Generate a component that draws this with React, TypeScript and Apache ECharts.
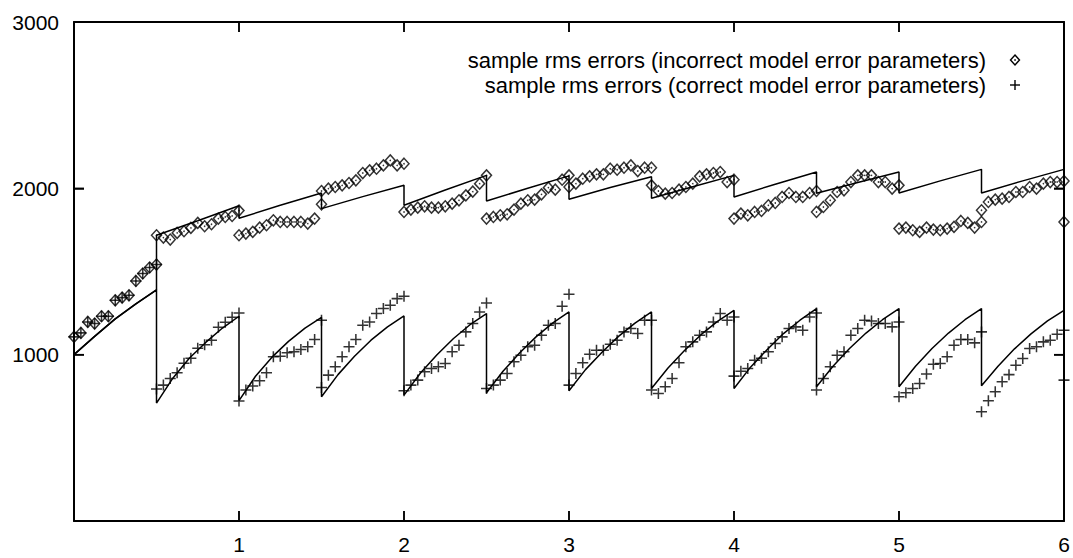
import React, { useEffect, useRef } from "react";
import * as echarts from "echarts";

// Sampling: each half-unit interval ("tooth") holds 13 samples
const toothStarts = [0, 0.5, 1, 1.5, 2, 2.5, 3, 3.5, 4, 4.5, 5, 5.5];
const sampleOffsets = [0, 0.0417, 0.0833, 0.125, 0.1667, 0.2083, 0.25, 0.2917, 0.3333, 0.375, 0.4167, 0.4583, 0.5];

// sample rms errors (incorrect model error parameters) — diamonds
const incorrectErrors: number[][] = [
  [1107, 1131, 1197, 1187, 1231, 1231, 1327, 1343, 1357, 1443, 1488, 1524, 1542],
  [1718, 1704, 1692, 1732, 1742, 1762, 1792, 1772, 1784, 1818, 1828, 1834, 1866],
  [1718, 1728, 1738, 1764, 1778, 1808, 1798, 1798, 1798, 1798, 1788, 1818, 1904],
  [1984, 1998, 2008, 2018, 2032, 2048, 2092, 2108, 2118, 2138, 2168, 2138, 2148],
  [1858, 1872, 1884, 1892, 1884, 1884, 1892, 1908, 1928, 1958, 1980, 2028, 2078],
  [1818, 1828, 1838, 1844, 1872, 1908, 1928, 1932, 1964, 2004, 1992, 2052, 2078],
  [2008, 2028, 2058, 2072, 2084, 2084, 2118, 2112, 2124, 2138, 2104, 2124, 2124],
  [2018, 1984, 1968, 1972, 1992, 2008, 2028, 2072, 2084, 2092, 2098, 2038, 2052],
  [1818, 1848, 1838, 1858, 1864, 1898, 1912, 1948, 1972, 1948, 1948, 1972, 1984],
  [1858, 1888, 1928, 1978, 1988, 2038, 2078, 2078, 2078, 2038, 2038, 1998, 2018],
  [1758, 1764, 1748, 1738, 1764, 1752, 1748, 1758, 1768, 1804, 1792, 1764, 1798],
  [1868, 1918, 1932, 1938, 1948, 1978, 1978, 2008, 1998, 2028, 2038, 2038, 2044],
];
const incorrectFinal = [6, 1798];

// sample rms errors (correct model error parameters) — pluses
const correctErrors: number[][] = [
  [1107, 1131, 1197, 1187, 1231, 1231, 1327, 1343, 1357, 1443, 1488, 1524, 1542],
  [793, 817, 857, 891, 949, 979, 1039, 1060, 1087, 1165, 1195, 1225, 1251],
  [722, 787, 811, 843, 891, 987, 991, 1011, 1017, 1031, 1047, 1091, 1207],
  [803, 877, 927, 987, 1047, 1091, 1177, 1197, 1247, 1277, 1297, 1337, 1351],
  [783, 817, 847, 897, 917, 927, 947, 1017, 1057, 1137, 1187, 1257, 1311],
  [797, 817, 847, 887, 957, 997, 1047, 1057, 1117, 1177, 1187, 1291, 1363],
  [817, 887, 951, 1003, 1027, 1027, 1063, 1087, 1137, 1157, 1127, 1207, 1207],
  [787, 767, 807, 857, 951, 1047, 1077, 1117, 1137, 1197, 1247, 1207, 1227],
  [871, 900, 917, 967, 979, 1017, 1067, 1107, 1157, 1167, 1147, 1227, 1251],
  [787, 857, 927, 997, 1017, 1117, 1157, 1207, 1203, 1187, 1187, 1167, 1197],
  [747, 771, 797, 827, 884, 943, 947, 987, 1057, 1091, 1091, 1071, 1137],
  [657, 723, 777, 837, 880, 937, 977, 1037, 1047, 1077, 1087, 1123, 1147],
];
const correctFinal = [6, 847];

// model prediction (incorrect parameters) — upper solid line
const incorrectModelX = [0, 0.125, 0.25, 0.375, 0.5, 0.5, 0.75, 1, 1, 1.25, 1.5, 1.5, 1.75, 2, 2, 2.25, 2.5, 2.5, 2.75, 3, 3, 3.25, 3.5, 3.5, 3.75, 4, 4, 4.25, 4.5, 4.5, 4.75, 5, 5, 5.25, 5.5, 5.5, 5.75, 6];
const incorrectModelY = [1000, 1110, 1215, 1305, 1390, 1718, 1805, 1895, 1820, 1898, 1972, 1878, 1950, 2018, 1898, 1990, 2078, 1924, 2000, 2075, 1934, 2005, 2070, 1940, 2010, 2078, 1948, 2025, 2098, 1970, 2035, 2098, 1972, 2045, 2114, 1972, 2045, 2114];

// model prediction (correct parameters) — lower solid line
const correctModelX = [0, 0.125, 0.25, 0.375, 0.5,
  0.5, 0.6, 0.7, 0.8, 0.9, 1.0,
  1.0, 1.1, 1.2, 1.3, 1.4, 1.5,
  1.5, 1.6, 1.7, 1.8, 1.9, 2.0,
  2.0, 2.1, 2.2, 2.3, 2.4, 2.5,
  2.5, 2.6, 2.7, 2.8, 2.9, 3.0,
  3.0, 3.1, 3.2, 3.3, 3.4, 3.5,
  3.5, 3.6, 3.7, 3.8, 3.9, 4.0,
  4.0, 4.1, 4.2, 4.3, 4.4, 4.5,
  4.5, 4.6, 4.7, 4.8, 4.9, 5.0,
  5.0, 5.1, 5.2, 5.3, 5.4, 5.5,
  5.5, 5.6, 5.7, 5.8, 5.9, 6.0];
const correctModelY = [1000, 1110, 1215, 1305, 1390,
  709, 860, 980, 1075, 1160, 1231,
  724, 870, 985, 1080, 1160, 1224,
  747, 880, 990, 1087, 1167, 1233,
  757, 890, 1000, 1097, 1180, 1247,
  771, 900, 1010, 1107, 1190, 1257,
  783, 910, 1015, 1110, 1190, 1257,
  797, 920, 1025, 1120, 1200, 1267,
  797, 925, 1030, 1127, 1207, 1277,
  807, 930, 1037, 1130, 1210, 1277,
  807, 930, 1037, 1130, 1210, 1277,
  813, 930, 1035, 1125, 1203, 1267];

const xTicks = [0, 1, 2, 3, 4, 5, 6];
const yTicks = [0, 1000, 2000, 3000];
const legendLabels = [
  "sample rms errors (incorrect model error parameters)",
  "sample rms errors (correct model error parameters)",
];

const FONT = '"Liberation Sans", Arial, Helvetica, sans-serif';

function buildSamples(vals: number[][], last: number[]) {
  const out: number[][] = [];
  vals.forEach((row, t) => {
    row.forEach((v, i) => out.push([toothStarts[t] + sampleOffsets[i], v]));
  });
  out.push(last);
  return out;
}

export default function App() {
  const ref = useRef<HTMLDivElement>(null);
  useEffect(() => {
    if (!ref.current) return;
    const chart = echarts.init(ref.current, undefined, { renderer: "svg" });
    const diamonds = buildSamples(incorrectErrors, incorrectFinal);
    const pluses = buildSamples(correctErrors, correctFinal);
    const lineA = incorrectModelX.map((x, i) => [x, incorrectModelY[i]]);
    const lineB = correctModelX.map((x, i) => [x, correctModelY[i]]);
    const plusPath = "path://M4.3,0H5.7V4.3H10V5.7H5.7V10H4.3V5.7H0V4.3H4.3Z";
    const TICK = 10;
    const axisLine = { show: true, onZero: false, lineStyle: { color: "#000", width: 2 } };
    const tickIn = { show: true, inside: true, length: TICK, lineStyle: { color: "#000", width: 1.5 } };
    const xMin = xTicks[0], xMax = xTicks[xTicks.length - 1];
    const yMin = yTicks[0], yMax = yTicks[yTicks.length - 1];
    const xBase = { type: "value", min: xMin, max: xMax, interval: 1, splitLine: { show: false } };
    const yBase = { type: "value", min: yMin, max: yMax, interval: 1000, splitLine: { show: false } };
    chart.setOption({
      animation: false,
      backgroundColor: "#fff",
      grid: { left: 74, right: 9, top: 22, bottom: 37 },
      xAxis: [
        {
          ...xBase, position: "bottom", axisLine, axisTick: tickIn,
          axisLabel: { color: "#000", fontSize: 21, fontFamily: FONT, margin: 13, formatter: (v: number) => (v === 0 ? "" : String(v)) },
        },
        { ...xBase, position: "top", axisLine, axisTick: tickIn, axisLabel: { show: false } },
      ],
      yAxis: [
        {
          ...yBase, position: "left", axisLine, axisTick: tickIn,
          axisLabel: { color: "#000", fontSize: 21, fontFamily: FONT, margin: 15, formatter: (v: number) => (v === 0 ? "" : String(v)) },
        },
        { ...yBase, position: "right", axisLine, axisTick: tickIn, axisLabel: { show: false } },
      ],
      series: [
        {
          name: "model (incorrect parameters)", type: "line", data: lineA, showSymbol: false, symbol: "none",
          lineStyle: { color: "#000", width: 1.5 }, z: 2,
        },
        {
          name: "model (correct parameters)", type: "line", data: lineB, showSymbol: false, symbol: "none",
          lineStyle: { color: "#000", width: 1.5 }, z: 2,
        },
        {
          name: legendLabels[0], type: "scatter", data: diamonds, symbol: "diamond", symbolSize: [10, 11],
          itemStyle: { color: "rgba(0,0,0,0)", borderColor: "#000", borderWidth: 1.5 }, z: 3,
        },
        {
          name: "diamond centres", type: "scatter", data: diamonds, symbol: "circle", symbolSize: 1.6,
          itemStyle: { color: "#000" }, z: 3, silent: true,
        },
        {
          name: legendLabels[1], type: "scatter", data: pluses, symbol: plusPath, symbolSize: 11,
          itemStyle: { color: "#000" }, z: 4,
        },
      ],
    });

    // Inward tick marks on all four sides, placed through the axes' own scales.
    const toPx = (p: number[]) => chart.convertToPixel({ xAxisIndex: 0, yAxisIndex: 0 }, p) as number[];
    const tickStyle = { stroke: "#000", lineWidth: 1.5 };
    const tickEls: any[] = [];
    xTicks.slice(1, -1).forEach((v) => {
      const b = toPx([v, yMin]);
      const t = toPx([v, yMax]);
      tickEls.push({ type: "line", z: 100, silent: true, shape: { x1: b[0], y1: b[1], x2: b[0], y2: b[1] - TICK }, style: tickStyle });
      tickEls.push({ type: "line", z: 100, silent: true, shape: { x1: t[0], y1: t[1], x2: t[0], y2: t[1] + TICK }, style: tickStyle });
    });
    yTicks.slice(1, -1).forEach((v) => {
      const l = toPx([xMin, v]);
      const r = toPx([xMax, v]);
      tickEls.push({ type: "line", z: 100, silent: true, shape: { x1: l[0], y1: l[1], x2: l[0] + TICK, y2: l[1] }, style: tickStyle });
      tickEls.push({ type: "line", z: 100, silent: true, shape: { x1: r[0], y1: r[1], x2: r[0] - TICK, y2: r[1] }, style: tickStyle });
    });

    chart.setOption({
      graphic: [
        { type: "text", x: 986, y: 60, style: { text: legendLabels[0], font: `22px ${FONT}`, fill: "#000", textAlign: "right", textVerticalAlign: "middle" } },
        { type: "text", x: 986, y: 85, style: { text: legendLabels[1], font: `22px ${FONT}`, fill: "#000", textAlign: "right", textVerticalAlign: "middle" } },
        { type: "polygon", shape: { points: [[1015, 55], [1019.5, 60], [1015, 65], [1010.5, 60]] }, style: { fill: "none", stroke: "#000", lineWidth: 1.4 } },
        { type: "circle", shape: { cx: 1015, cy: 60, r: 0.8 }, style: { fill: "#000" } },
        { type: "line", shape: { x1: 1010, y1: 85, x2: 1020, y2: 85 }, style: { stroke: "#000", lineWidth: 1.4 } },
        { type: "line", shape: { x1: 1015, y1: 80, x2: 1015, y2: 90 }, style: { stroke: "#000", lineWidth: 1.4 } },
        ...tickEls,
      ],
    });
    return () => chart.dispose();
  }, []);
  return <div ref={ref} style={{ position: "fixed", left: 0, top: 0, width: "1073px", height: "558px", background: "#fff" }} />;
}
